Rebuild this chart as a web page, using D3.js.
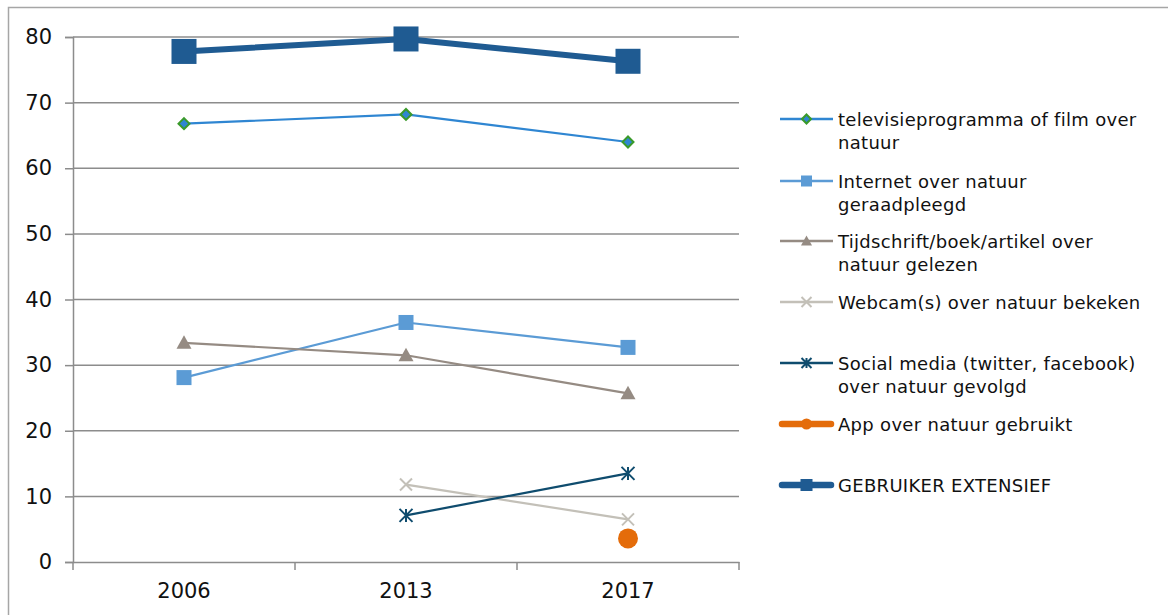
<!DOCTYPE html>
<html>
<head>
<meta charset="utf-8">
<script src="https://cdn.jsdelivr.net/npm/d3@7"></script>
<style>
  html, body { margin: 0; padding: 0; background: #fff; }
  svg { display: block; font-family: "DejaVu Sans", Verdana, sans-serif; }
</style>
</head>
<body>
<svg id="chart" width="1168" height="615"></svg>
<script>
// Jaren op de x-as
const years = ["2006", "2013", "2017"];
const yTicks = [0, 10, 20, 30, 40, 50, 60, 70, 80];

// Percentages per activiteit (null = niet gemeten)
const tvValues        = [66.8, 68.2, 64.0];
const internetValues  = [28.1, 36.5, 32.7];
const tijdschriftValues = [33.4, 31.5, 25.7];
const webcamValues    = [null, 11.8, 6.5];
const socialValues    = [null, 7.1, 13.5];
const appValues       = [null, null, 3.6];
const gebruikerValues = [77.8, 79.7, 76.3];

const seriesNames = [
  ["televisieprogramma of film over", "natuur"],
  ["Internet over natuur", "geraadpleegd"],
  ["Tijdschrift/boek/artikel over", "natuur gelezen"],
  ["Webcam(s) over natuur bekeken"],
  ["Social media (twitter, facebook)", "over natuur gevolgd"],
  ["App over natuur gebruikt"],
  ["GEBRUIKER EXTENSIEF"]
];

const series = [
  { name: seriesNames[0], values: tvValues, color: "#2f86d2", width: 2.2, marker: "diamond", size: 11, mSize: 9, fill: "#2f86d2", stroke: "#3a9a2a" },
  { name: seriesNames[1], values: internetValues, color: "#5b9bd5", width: 2.2, marker: "square", size: 15, mSize: 11, fill: "#5b9bd5" },
  { name: seriesNames[2], values: tijdschriftValues, color: "#958b83", width: 2.2, marker: "triangle", size: 15, mSize: 11, fill: "#958b83" },
  { name: seriesNames[3], values: webcamValues, color: "#c3c0b8", width: 2.2, marker: "cross", size: 12, mSize: 10 },
  { name: seriesNames[4], values: socialValues, color: "#0f4c6e", width: 2.2, marker: "asterisk", size: 13, mSize: 10 },
  { name: seriesNames[5], values: appValues, color: "#e46c0a", width: 5, marker: "circle", size: 20, mSize: 11, fill: "#e46c0a", cap: "round" },
  { name: seriesNames[6], values: gebruikerValues, color: "#1f5b92", width: 6, marker: "square", size: 25, mSize: 12, fill: "#1f5b92", cap: "round" }
];

const svg = d3.select("#chart");

// Kader rond de grafiek
svg.append("rect")
  .attr("x", 8.5).attr("y", 7.5)
  .attr("width", 1300).attr("height", 700)
  .attr("fill", "none").attr("stroke", "#a6a6a6").attr("stroke-width", 1.5);

const plot = { left: 73, right: 739, top: 37, bottom: 562 };

const x = d3.scaleBand().domain(years).range([plot.left, plot.right]);
const y = d3.scaleLinear().domain([0, 80]).range([plot.bottom, plot.top]);

// Rasterlijnen
svg.append("g").selectAll("line").data(yTicks.filter(d => d > 0)).join("line")
  .attr("x1", plot.left).attr("x2", plot.right)
  .attr("y1", d => y(d)).attr("y2", d => y(d))
  .attr("stroke", "#8c8c8c").attr("stroke-width", 1.5);

// Y-as
const yAxis = svg.append("g").attr("transform", `translate(${plot.left},0)`)
  .call(d3.axisLeft(y).tickValues(yTicks).tickSize(8).tickPadding(13));
yAxis.select(".domain").attr("stroke", "#8c8c8c").attr("stroke-width", 1.5);
yAxis.selectAll(".tick line").attr("stroke", "#8c8c8c").attr("stroke-width", 1.5);
yAxis.selectAll("text").attr("font-size", 21).attr("fill", "#111").attr("font-family", "DejaVu Sans, Verdana, sans-serif");

// X-as
const xAxis = svg.append("g").attr("transform", `translate(0,${plot.bottom})`)
  .call(d3.axisBottom(x).tickSize(0).tickPadding(21));
xAxis.select(".domain").attr("stroke", "#8c8c8c").attr("stroke-width", 1.5);
xAxis.selectAll("text").attr("font-size", 21).attr("fill", "#111").attr("font-family", "DejaVu Sans, Verdana, sans-serif");
// Scheidingsstreepjes tussen de categorieën
const bounds = years.map(d => x(d)).concat([x.range()[1]]);
xAxis.append("g").selectAll("line").data(bounds).join("line")
  .attr("x1", d => d).attr("x2", d => d)
  .attr("y1", 0).attr("y2", 8)
  .attr("stroke", "#8c8c8c").attr("stroke-width", 1.5);

const cx = d => x(d) + x.bandwidth() / 2;

function drawMarker(g, s, px, py, size) {
  const h = size / 2;
  if (s.marker === "square") {
    g.append("rect").attr("x", px - h).attr("y", py - h).attr("width", size).attr("height", size)
      .attr("fill", s.fill);
  } else if (s.marker === "diamond") {
    g.append("path").attr("d", `M${px},${py - h}L${px + h},${py}L${px},${py + h}L${px - h},${py}Z`)
      .attr("fill", s.fill).attr("stroke", s.stroke).attr("stroke-width", 2);
  } else if (s.marker === "triangle") {
    g.append("path").attr("d", `M${px},${py - h}L${px + h},${py + h * 0.8}L${px - h},${py + h * 0.8}Z`)
      .attr("fill", s.fill);
  } else if (s.marker === "circle") {
    g.append("circle").attr("cx", px).attr("cy", py).attr("r", h).attr("fill", s.fill);
  } else if (s.marker === "cross") {
    g.append("path").attr("d", `M${px - h},${py - h}L${px + h},${py + h}M${px - h},${py + h}L${px + h},${py - h}`)
      .attr("stroke", s.color).attr("stroke-width", 2);
  } else if (s.marker === "asterisk") {
    g.append("path").attr("d", `M${px - h},${py - h}L${px + h},${py + h}M${px - h},${py + h}L${px + h},${py - h}M${px},${py - h}L${px},${py + h}`)
      .attr("stroke", s.color).attr("stroke-width", 2);
  }
}

// Lijnen en markeringen per reeks
series.forEach(s => {
  const g = svg.append("g");
  const pts = years.map((yr, i) => ({ yr, v: s.values[i] }));
  const line = d3.line().defined(d => d.v !== null).x(d => cx(d.yr)).y(d => y(d.v));
  g.append("path").datum(pts).attr("d", line)
    .attr("fill", "none").attr("stroke", s.color).attr("stroke-width", s.width)
    .attr("stroke-linejoin", "round");
  pts.filter(d => d.v !== null).forEach(d => drawMarker(g, s, cx(d.yr), y(d.v), s.size));
});

// Legenda
const legendY = [119, 181, 241, 302, 363, 424, 485];
const legend = svg.append("g");
series.forEach((s, i) => {
  const ly = legendY[i];
  const g = legend.append("g");
  const round = s.cap === "round";
  g.append("line").attr("x1", round ? 782 : 780).attr("x2", round ? 831 : 833)
    .attr("y1", ly).attr("y2", ly)
    .attr("stroke", s.color).attr("stroke-width", round ? 6.5 : s.width + 0.3)
    .attr("stroke-linecap", round ? "round" : "butt");
  drawMarker(g, s, 806.5, ly, s.mSize);
  const t = g.append("text").attr("x", 838).attr("y", ly + 6.5)
    .attr("font-size", 18).attr("letter-spacing", 0.3).attr("fill", "#111");
  s.name.forEach((ln, j) => {
    t.append("tspan").attr("x", 838).attr("dy", j === 0 ? 0 : 23).text(ln);
  });
});
</script>
</body>
</html>
